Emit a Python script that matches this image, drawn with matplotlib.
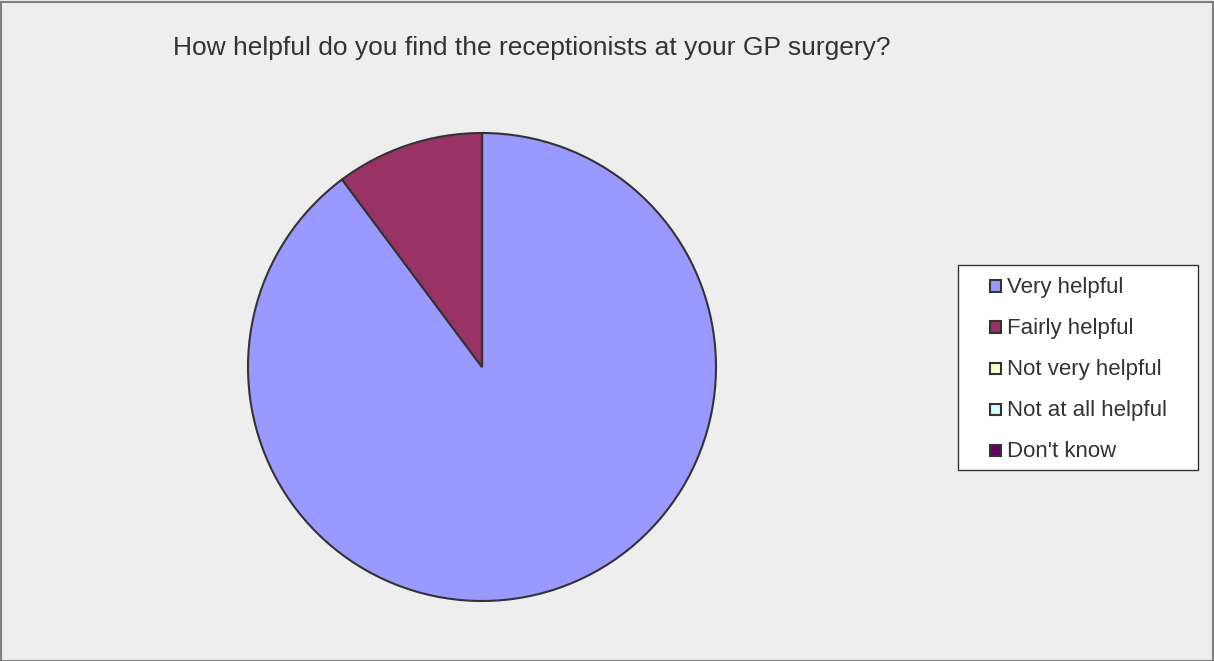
import matplotlib.pyplot as plt
from matplotlib.patches import Rectangle

# datos de la encuesta
labels = ["Very helpful", "Fairly helpful", "Not very helpful", "Not at all helpful", "Don't know"]
counts = [44, 5, 0, 0, 0]
colors = ["#9999FF", "#993366", "#FFFFCC", "#CCFFFF", "#660066"]
title = "How helpful do you find the receptionists at your GP surgery?"

plt.rcParams['font.family'] = ['Liberation Sans', 'DejaVu Sans']

W, H = 1214, 661
fig = plt.figure(figsize=(W / 100, H / 100), dpi=100, facecolor="#EEEEEE")

# borde exterior
fig.patches.append(Rectangle((0.5 / W, 0.5 / H), 1 - 2 / W, 1 - 2 / H, transform=fig.transFigure,
                             fill=False, edgecolor="#808080", linewidth=1.5))

# ejes del pastel
cx, cy, r = 482, 367, 234
ax = fig.add_axes([(cx - r) / W, (H - cy - r) / H, 2 * r / W, 2 * r / H])
wedges, _ = ax.pie(counts, colors=colors, startangle=90, counterclock=False, radius=1,
                   wedgeprops=dict(edgecolor="#333333", linewidth=1.5))
ax.set_xlim(-1.0, 1.0)
ax.set_ylim(-1.0, 1.0)
ax.set_facecolor("none")

fig.text(532 / W, 1 - 48 / H, title, ha="center", va="center", fontsize=19, color="#333333")

# leyenda dibujada a mano (posiciones en pixeles)
def px(x, y):
    return x / W, 1 - y / H

fig.patches.append(Rectangle(px(958, 470), 240 / W, 205 / H, transform=fig.transFigure,
                             facecolor="white", edgecolor="#333333", linewidth=1.0))
for i, (lab, w) in enumerate(zip(labels, wedges)):
    yc = 286 + 41 * i
    fig.patches.append(Rectangle(px(990, yc + 5.5), 11 / W, 11 / H, transform=fig.transFigure,
                                 facecolor=w.get_facecolor(), edgecolor="#333333", linewidth=1.5))
    x, y = px(1007, yc + 1.5)
    fig.text(x, y, lab, ha="left", va="center", fontsize=16, color="#333333")

fig.savefig("out.png", dpi=100, facecolor=fig.get_facecolor())
